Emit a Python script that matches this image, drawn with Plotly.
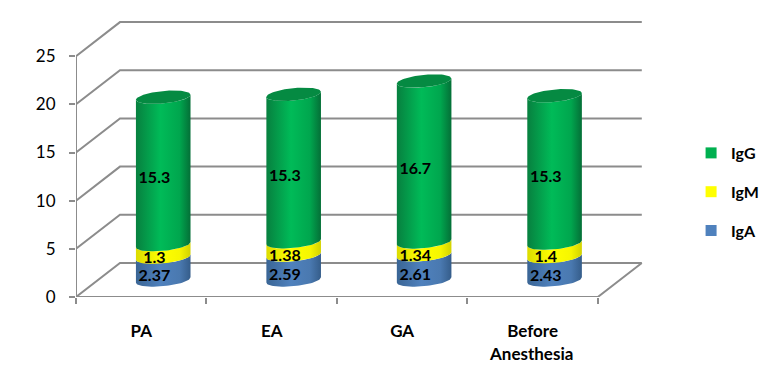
import numpy as np
import plotly.graph_objects as go

categories = ["PA", "EA", "GA", "Before Anesthesia"]
series_names = ["IgA", "IgM", "IgG"]
iga = [2.37, 2.59, 2.61, 2.43]
igm = [1.3, 1.38, 1.34, 1.4]
igg = [15.3, 15.3, 16.7, 15.3]
y_ticks = [0, 5, 10, 15, 20, 25]

# pixel geometry of the plot area
LEFT, BOTTOM, PX_CAT, PX_VAL = 76.0, 296.6, 130.5, 9.62
DX, DY = 44 / PX_CAT, 34 / PX_VAL           # oblique depth offset in data units
A, B, S = 27.3 / PX_CAT, 6.2 / PX_VAL, 2.6 / PX_VAL  # ellipse radii and tilt
X0, X1 = -0.5, 3.5
XMAX, YMAX = 3.9, 30.0
GRID = "#8c8c8c"
FONT = "Lato"

colors = {
    "IgA": [[0, "#3a6595"], [0.45, "#4f81bd"], [0.8, "#4a79b0"], [1, "#355d8a"]],
    "IgM": [[0, "#dcdc00"], [0.45, "#ffff00"], [0.8, "#f6f600"], [1, "#d2d200"]],
    "IgG": [[0, "#07803f"], [0.45, "#00bb58"], [0.8, "#00a64e"], [1, "#046f37"]],
}
swatches = {"IgA": "#4f81bd", "IgM": "#ffff00", "IgG": "#00b050"}

fig = go.Figure()


def line(xs, ys):
    fig.add_trace(go.Scatter(x=xs, y=ys, mode="lines", cliponaxis=False, showlegend=False,
                             hoverinfo="skip", line=dict(color=GRID, width=2)))


# walls and floor
for v in y_ticks:
    line([X0, X0 + DX, X1 + DX], [v, v + DY, v + DY])
line([X0, X0], [0, y_ticks[-1]])
line([X0, X1, X1 + DX], [0, 0, DY])


def arc(cx, v):
    """Front half of the tilted ellipse at stack height v, left to right."""
    t = np.linspace(np.pi, 0, 40)
    return cx + A * np.cos(t), v + DY / 2 - B * np.sin(t) + S * np.cos(t)


# cylinders
for i in range(len(categories)):
    cx = i + DX / 2
    base = 0.0
    for name, vals in zip(series_names, [iga, igm, igg]):
        top = base + vals[i]
        xl, yl = arc(cx, base)
        xu, yu = arc(cx, top)
        fig.add_trace(go.Scatter(
            x=np.r_[xl, xu[::-1], xl[0]], y=np.r_[yl, yu[::-1], yl[0]],
            mode="lines", line=dict(width=0), fill="toself", showlegend=False, hoverinfo="skip",
            fillgradient=dict(type="horizontal", colorscale=colors[name]),
            fillcolor=swatches[name]))
        base = top
    t = np.linspace(0, 2 * np.pi, 80)
    fig.add_trace(go.Scatter(
        x=cx + A * np.cos(t), y=base + DY / 2 - B * np.sin(t) + S * np.cos(t),
        mode="lines", line=dict(width=0), fill="toself", fillcolor="#058a42",
        showlegend=False, hoverinfo="skip"))

# value labels
for vals, below in zip([iga, igm, igg], [np.zeros(4), np.array(iga), np.array(iga) + np.array(igm)]):
    fig.add_trace(go.Scatter(
        x=[i + 0.3 * DX for i in range(4)], y=below + np.array(vals) / 2 + 0.25 * DY,
        mode="text", text=[str(v) for v in vals], showlegend=False, hoverinfo="skip",
        textposition="middle center",
        textfont=dict(family=FONT, size=16, color="black", weight="bold")))

# legend entries, top to bottom IgG, IgM, IgA
for name in series_names[::-1]:
    fig.add_trace(go.Scatter(x=[None], y=[None], mode="markers", name=name, legendgroup=name,
                             marker=dict(symbol="square", size=11, color=swatches[name])))

fig.update_layout(
    width=780, height=382, autosize=False,
    margin=dict(l=LEFT, r=780 - (LEFT + (XMAX - X0) * PX_CAT), b=382 - BOTTOM,
                t=BOTTOM - YMAX * PX_VAL, pad=0),
    paper_bgcolor="white", plot_bgcolor="white",
    font=dict(family=FONT, color="black"),
    xaxis=dict(range=[X0, XMAX], showgrid=False, zeroline=False, showline=False,
               tickvals=list(range(len(categories))),
               ticktext=[c.split(" ")[0] for c in categories],
               ticks="", ticklabelstandoff=22,
               tickfont=dict(family=FONT, size=17, color="black", weight="bold"),
               minor=dict(tickmode="array", tickvals=[X0 + k for k in range(5)], ticks="outside",
                          ticklen=6, tickwidth=2, tickcolor=GRID, showgrid=False)),
    yaxis=dict(range=[0, YMAX], showgrid=False, zeroline=False, showline=False,
               tickvals=y_ticks, ticks="outside", ticklen=6, tickwidth=2, tickcolor=GRID,
               ticklabelstandoff=10,
               tickfont=dict(family=FONT, size=17, color="black")),
    legend=dict(xref="container", yref="container", x=0.886, y=0.644, xanchor="left", yanchor="top",
                traceorder="grouped", tracegroupgap=15, itemwidth=30,
                bgcolor="rgba(0,0,0,0)", font=dict(family=FONT, size=16, color="black", weight="bold")),
)

# second line of wrapped category names
for i, c in enumerate(categories):
    parts = c.split(" ")
    if len(parts) > 1:
        fig.add_annotation(x=i, y=0, xref="x", yref="y", text=parts[1], showarrow=False, yshift=-56,
                           xshift=-2, font=dict(family=FONT, size=17, color="black", weight="bold"))

fig.write_html("out.html", config={"displayModeBar": False},
               post_script="document.body.style.margin='0';document.body.style.overflow='hidden';")
